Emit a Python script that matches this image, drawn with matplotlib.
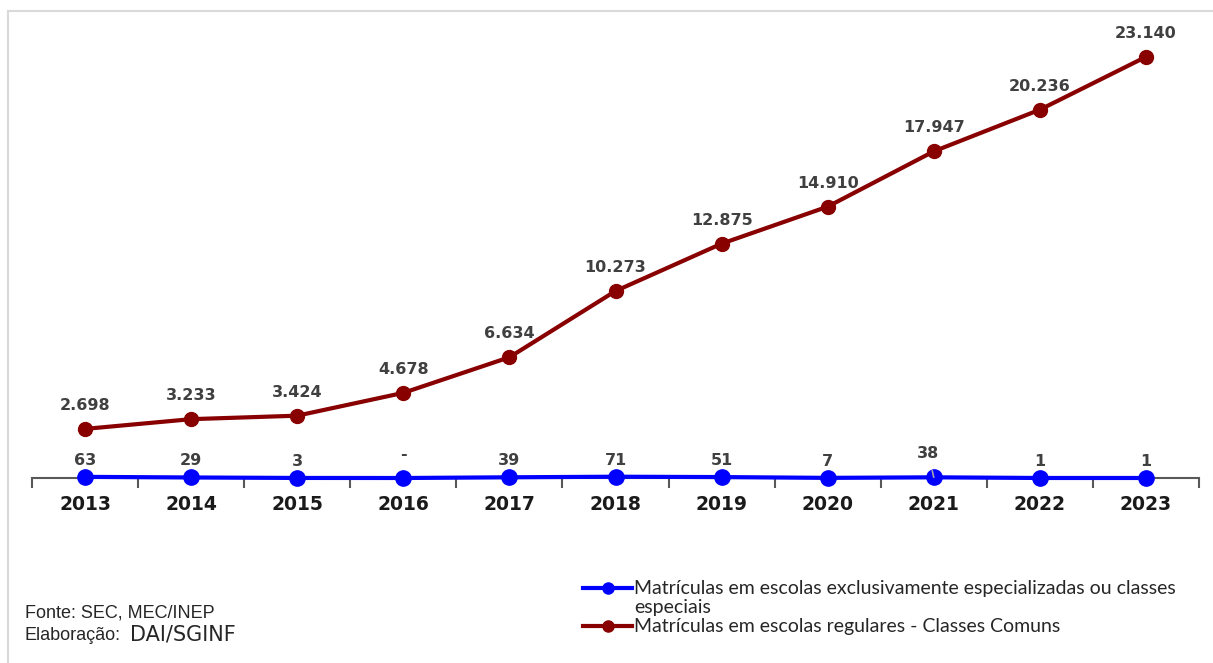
import matplotlib.pyplot as plt
from matplotlib.lines import Line2D

# Enrollment series, 2013-2023
anos = ["2013", "2014", "2015", "2016", "2017", "2018", "2019", "2020", "2021", "2022", "2023"]
especializadas = [63, 29, 3, 0, 39, 71, 51, 7, 38, 1, 1]
regulares = [2698, 3233, 3424, 4678, 6634, 10273, 12875, 14910, 17947, 20236, 23140]

AZUL = "#0000FF"
VERMELHO = "#880000"
CINZA_TXT = "#404040"


def fmt(v):
    # Brazilian thousands separator, zero shown as a dash
    if v == 0:
        return "-"
    return f"{v:,}".replace(",", ".")


fig = plt.figure(figsize=(12.13, 6.63), dpi=100)
ax = fig.add_axes([32 / 1213, 1 - 478 / 663, 1167 / 1213, 455 / 663])

x = list(range(len(anos)))
ax.plot(x, especializadas, color=AZUL, lw=3, marker="o", ms=11, zorder=3, clip_on=False)
ax.plot(x, regulares, color=VERMELHO, lw=3, marker="o", ms=10, zorder=3, clip_on=False)

for i, v in enumerate(regulares):
    ax.annotate(fmt(v), (i, v), xytext=(0, 17), textcoords="offset points",
                ha="center", va="center", fontsize=11.5, fontweight="bold", color=CINZA_TXT)

for i, v in enumerate(especializadas):
    if anos[i] == "2021":
        # label pushed up-left with a small leader line
        ax.annotate(fmt(v), (i, v), xytext=(-4, 17), textcoords="offset points",
                    ha="center", va="center", fontsize=11.5, fontweight="bold", color=CINZA_TXT,
                    arrowprops=dict(arrowstyle="-", color="#a6a6a6", lw=1.2, shrinkA=5, shrinkB=0))
    elif v == 0:
        ax.annotate(fmt(v), (i, v), xytext=(0, 17), textcoords="offset points",
                    ha="center", va="center", fontsize=11.5, fontweight="bold", color=CINZA_TXT)
    else:
        ax.annotate(fmt(v), (i, v), xytext=(0, 12), textcoords="offset points",
                    ha="center", va="center", fontsize=11.5, fontweight="bold", color=CINZA_TXT)

ax.set_xlim(-0.5, len(anos) - 0.5)
ax.set_ylim(0, 25000)
ax.set_yticks([])
for s in ["top", "right", "left"]:
    ax.spines[s].set_visible(False)
ax.spines["bottom"].set_color("#595959")
ax.spines["bottom"].set_linewidth(1.5)

# ticks on category boundaries, labels at the centers
ax.set_xticks([i - 0.5 for i in range(len(anos) + 1)])
ax.set_xticklabels([])
ax.set_xticks(x, minor=True)
ax.set_xticklabels(anos, minor=True, fontsize=13.5, fontweight="bold", color="#1a1a1a")
ax.tick_params(axis="x", which="major", length=7, width=1.5, color="#595959", direction="out")
ax.tick_params(axis="x", which="minor", length=0, pad=12)

# legend drawn by hand in figure pixels
def px(xp, yp):
    return xp / 1213, 1 - yp / 663

leg = [(AZUL, 588, "Matrículas em escolas exclusivamente especializadas ou classes\nespeciais"),
       (VERMELHO, 626, "Matrículas em escolas regulares - Classes Comuns")]
for cor, yp, txt in leg:
    (x0, y0), (x1, _) = px(583, yp), px(632, yp)
    fig.add_artist(Line2D([x0, x1], [y0, y0], color=cor, lw=3))
    fig.add_artist(Line2D([(x0 + x1) / 2], [y0], color=cor, marker="o", ms=8))
    tx, ty = px(634, yp - 8)
    fig.text(tx, ty, txt, ha="left", va="top", fontsize=14, family="Lato",
             color="#262626", linespacing=1.12)

fx, fy = px(25, 613)
fig.text(fx, fy, "Fonte: SEC, MEC/INEP", fontsize=13, family="Liberation Sans",
         color="#262626", va="center")
fx, fy = px(25, 636)
fig.text(fx, fy, "Elaboração:", fontsize=13, family="Liberation Sans",
         color="#262626", va="center")
fx, fy = px(130, 635)
fig.text(fx, fy, "DAI/SGINF", fontsize=15, family="DejaVu Sans",
         color="#262626", va="center")

# light frame along the top and left edges
fig.add_artist(Line2D([8 / 1213, 1], [1 - 10.5 / 663] * 2, color="#d9d9d9", lw=1.5))
fig.add_artist(Line2D([8 / 1213] * 2, [0, 1 - 10.5 / 663], color="#d9d9d9", lw=1.5))

fig.savefig("out.png", dpi=100)
